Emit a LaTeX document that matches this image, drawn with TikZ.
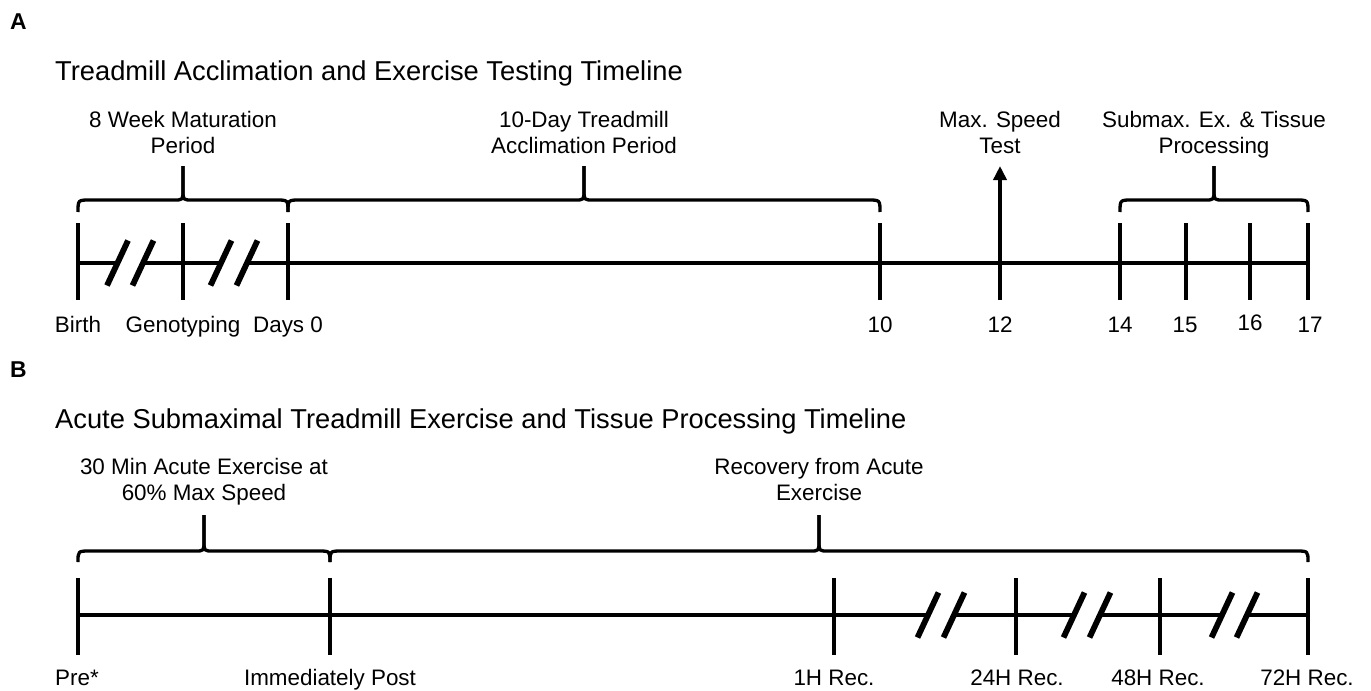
\documentclass[tikz,border=0pt]{standalone}
\usepackage{fontspec}
\setmainfont{Liberation Sans}
\usetikzlibrary{arrows.meta}
\newcommand{\tlbr}[5]{% x1, x2, yEnd, yHoriz, yPeak
  \draw[bracepath] (#1,#3) .. controls (#1,#4) .. ({#1+12},#4) -- ({(#1+#2)/2-9},#4) .. controls ({(#1+#2)/2},#4) .. ({(#1+#2)/2},{#4-10}) -- ({(#1+#2)/2},#5);
  \draw[bracepath] ({(#1+#2)/2},#5) -- ({(#1+#2)/2},{#4-10}) .. controls ({(#1+#2)/2},#4) .. ({(#1+#2)/2+9},#4) -- ({#2-12},#4) .. controls (#2,#4) .. (#2,#3);
}
\newcommand{\tlslash}[2]{\draw[slashmark] ({#1-10.5},{#2+22.5}) -- ({#1+10.5},{#2-22.5});}
\begin{document}
\begin{tikzpicture}[x=1bp,y=-1bp,
  lbl/.style={font=\fontsize{22.5}{26}\selectfont, inner sep=0pt, anchor=base, align=center},
  ttl/.style={font=\fontsize{27.4}{32}\selectfont, inner sep=0pt, anchor=base west},
  panel/.style={font=\fontsize{23}{27}\selectfont\bfseries, inner sep=0pt, anchor=base west},
  tline/.style={line width=3.6bp},
  tick/.style={line width=4.3bp},
  slashmark/.style={line width=5.8bp},
  bracepath/.style={line width=3.3bp, line join=round}]
\fill[white] (0,0) rectangle (1371,690);
\useasboundingbox (0,0) rectangle (1371,690);

% ---------------- Panel A ----------------
\node[panel] (pA) at (10,30) {A};
\node[ttl] (tA) at (55,81) {Treadmill Acclimation and Exercise Testing Timeline};

\node[lbl] (mat) at (183,153) {8 Week Maturation\\Period};
\node[lbl] (acc) at (584,153) {10-Day Treadmill\\Acclimation Period};
\node[lbl] (msp) at (1000,153) {Max. Speed\\Test};
\node[lbl] (sub) at (1214,153) {Submax. Ex. \& Tissue\\Processing};

\tlbr{78}{288}{212}{200}{166}
\tlbr{288}{880}{212}{200}{166}
\tlbr{1120}{1308}{212}{200}{166}

% timeline
\draw[tline] (78,263) -- (117.5,263);
\draw[tline] (143,263) -- (221,263);
\draw[tline] (247,263) -- (1308,263);
\tlslash{117.5}{263}
\tlslash{143}{263}
\tlslash{221}{263}
\tlslash{247}{263}

\foreach \xx/\nm in {78/ta1,183/ta2,288/ta3,880/ta4,1120/ta6,1186/ta7,1250/ta8,1308/ta9}{
  \coordinate (\nm t) at (\xx,223);
  \coordinate (\nm b) at (\xx,300);
  \draw[tick] (\nm t) -- (\nm b);
}
\coordinate (ta5b) at (1000,300);
\coordinate (ta5t) at (1000,166);
\draw[tick,-{Triangle[length=14bp,width=13bp]}] (ta5b) -- (ta5t);

\node[lbl] (la1) at (78,332) {Birth};
\node[lbl] (la2) at (183,332) {Genotyping};
\node[lbl] (la3) at (288,332) {Days 0};
\node[lbl] (la4) at (880,332) {10};
\node[lbl] (la5) at (1000,332) {12};
\node[lbl] (la6) at (1120,332) {14};
\node[lbl] (la7) at (1185,332) {15};
\node[lbl] (la8) at (1250,330.5) {16};
\node[lbl] (la9) at (1310,332) {17};

% ---------------- Panel B ----------------
\node[panel] (pB) at (10,377) {B};
\node[ttl] (tB) at (55,428) {Acute Submaximal Treadmill Exercise and Tissue Processing Timeline};

\node[lbl] (ace) at (204,500) {30 Min Acute Exercise at\\60\% Max Speed};
\node[lbl] (rec) at (819,500) {Recovery from Acute\\Exercise};

\tlbr{78}{330}{562}{551}{515}
\tlbr{330}{1308}{562}{551}{515}

\draw[tline] (78,615) -- (928,615);
\draw[tline] (954,615) -- (1074,615);
\draw[tline] (1100,615) -- (1222,615);
\draw[tline] (1247,615) -- (1308,615);
\tlslash{928}{615}
\tlslash{954}{615}
\tlslash{1074}{615}
\tlslash{1100}{615}
\tlslash{1222}{615}
\tlslash{1247}{615}

\foreach \xx/\nm in {78/tb1,330/tb2,834/tb3,1016/tb4,1160/tb5,1308/tb6}{
  \coordinate (\nm t) at (\xx,578);
  \coordinate (\nm b) at (\xx,655);
  \draw[tick] (\nm t) -- (\nm b);
}

\node[lbl] (lb1) at (77,685) {Pre*};
\node[lbl] (lb2) at (330,685) {Immediately Post};
\node[lbl] (lb3) at (834,685) {1H Rec.};
\node[lbl] (lb4) at (1017,685) {24H Rec.};
\node[lbl] (lb5) at (1158,685) {48H Rec.};
\node[lbl] (lb6) at (1307,685) {72H Rec.};
\end{tikzpicture}
\end{document}
